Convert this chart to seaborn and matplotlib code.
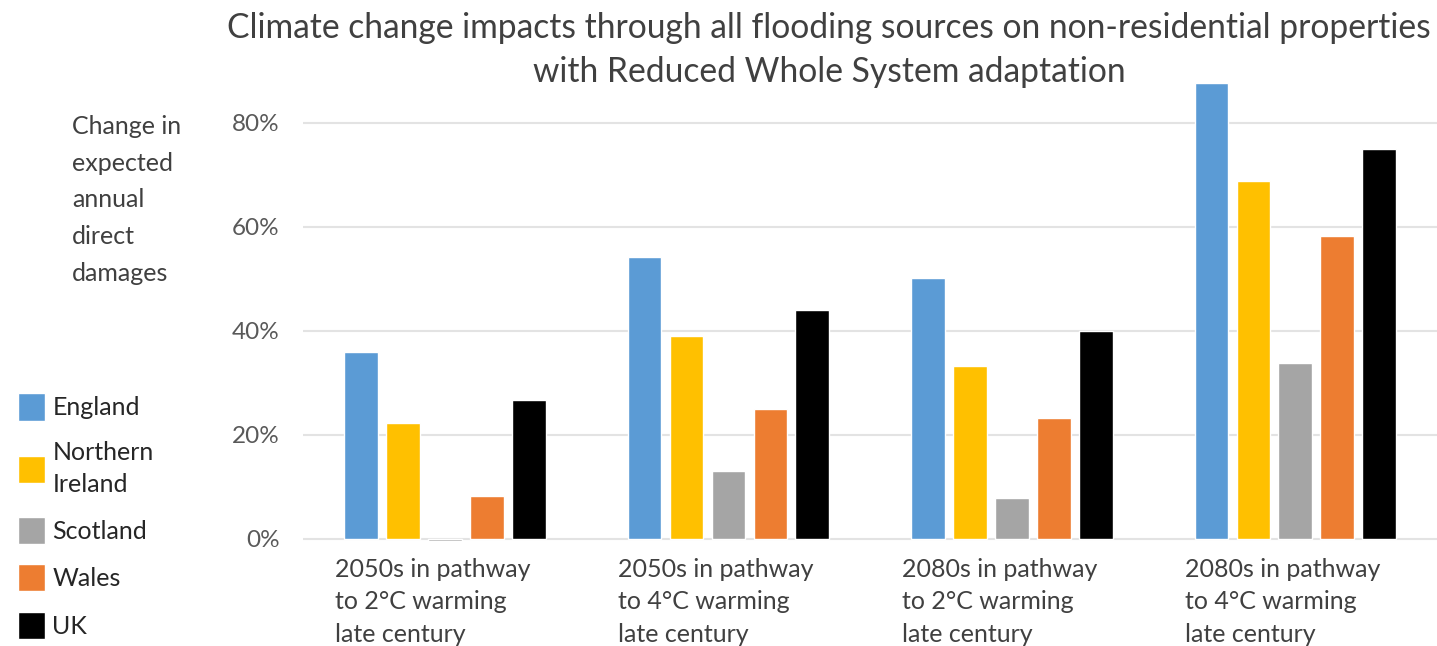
import matplotlib
matplotlib.use("Agg")
from matplotlib import pyplot as plt
from matplotlib import transforms
from matplotlib.ticker import PercentFormatter
import pandas as pd
import seaborn as sns

# values
periods = ["2050s in pathway\nto 2°C warming\nlate century",
           "2050s in pathway\nto 4°C warming\nlate century",
           "2080s in pathway\nto 2°C warming\nlate century",
           "2080s in pathway\nto 4°C warming\nlate century"]
countries = ["England", "Northern\nIreland", "Scotland", "Wales", "UK"]
england = [0.360, 0.542, 0.502, 0.877]
northern_ireland = [0.223, 0.390, 0.333, 0.688]
scotland = [-0.003, 0.131, 0.079, 0.338]
wales = [0.083, 0.250, 0.233, 0.583]
uk = [0.267, 0.440, 0.400, 0.750]
colours = ["#5B9BD5", "#FFC000", "#A5A5A5", "#ED7D31", "#000000"]

series = [england, northern_ireland, scotland, wales, uk]
rows = []
for c, vals in zip(countries, series):
    for p, v in zip(periods, vals):
        rows.append({"period": p, "country": c, "value": v})
df = pd.DataFrame(rows)

sns.set_style("white")
plt.rcParams['font.family'] = ['Lato', 'DejaVu Sans']

fig = plt.figure(figsize=(14.37, 6.46), dpi=100)
ax = fig.add_axes([0.211, 0.1625, 0.789, 0.7276])

sns.barplot(data=df, x="period", y="value", hue="country", hue_order=countries,
            order=periods, palette=colours, width=0.74, gap=0.2, ax=ax,
            saturation=1, legend=True)

handles, labels = ax.get_legend_handles_labels()
ax.get_legend().remove()

ax.set_ylim(-0.004, 0.9)
ax.set_yticks([0, 0.2, 0.4, 0.6, 0.8])
ax.yaxis.set_major_formatter(PercentFormatter(1.0, decimals=0))
ax.grid(axis="y", color="#E3E3E3", linewidth=1.5)
ax.set_axisbelow(True)
for s in ax.spines.values():
    s.set_visible(False)
ax.set_xlim(-0.5, 3.5)
ax.set_xlabel("")
ax.set_ylabel("")
ax.tick_params(axis="y", labelsize=17.5, labelcolor="#595959", length=0, pad=17)
ax.tick_params(axis="x", labelsize=18, labelcolor="#404040", length=0, pad=12)

offset = transforms.ScaledTranslation(-1.10, 0, fig.dpi_scale_trans)
for lbl in ax.get_xticklabels():
    lbl.set_horizontalalignment("left")
    lbl.set_verticalalignment("top")
    lbl.set_multialignment("left")
    lbl.set_transform(lbl.get_transform() + offset)
    lbl.set_linespacing(1.5)

fig.text(0.577, 0.981, "Climate change impacts through all flooding sources on non-residential properties\nwith Reduced Whole System adaptation",
         ha="center", va="top", fontsize=24.2, color="#404040", linespacing=1.45)

fig.text(0.05, 0.822, "Change in\nexpected\nannual\ndirect\ndamages",
         ha="left", va="top", fontsize=18, color="#404040", linespacing=1.72)

leg = fig.legend(handles, labels, loc="upper left", bbox_to_anchor=(0.0, 0.418),
                 frameon=False, fontsize=18, handlelength=1.1, handleheight=1.3,
                 handletextpad=0.3, labelspacing=0.81, labelcolor="#262626",
                 borderaxespad=0.3, borderpad=0.4)
for t in leg.get_texts():
    t.set_linespacing(1.5)

fig.savefig("out.png", dpi=100)
